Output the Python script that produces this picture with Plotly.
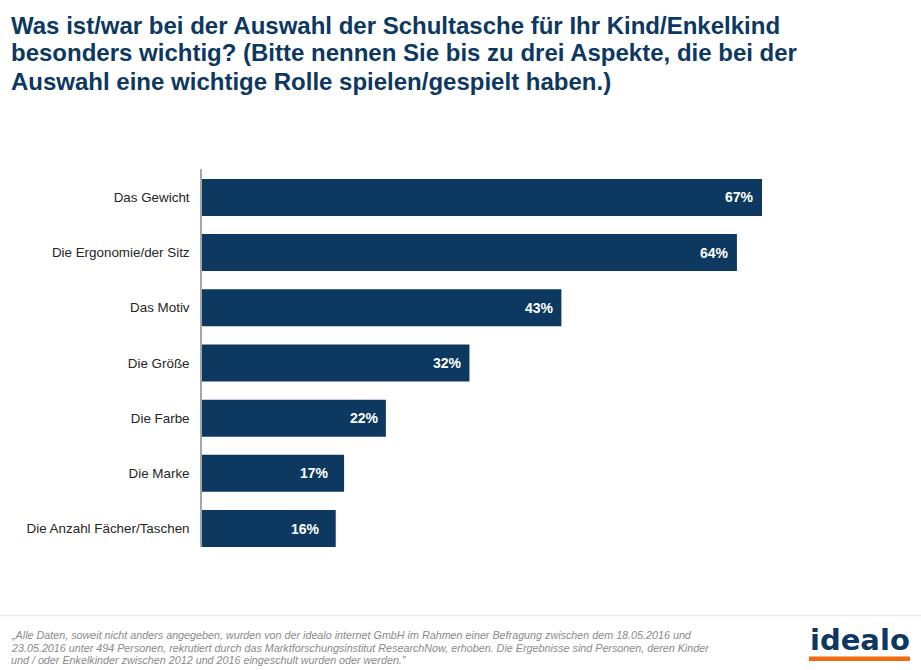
import plotly.graph_objects as go

categories = ["Das Gewicht", "Die Ergonomie/der Sitz", "Das Motiv", "Die Größe", "Die Farbe", "Die Marke", "Die Anzahl Fächer/Taschen"]
values = [67, 64, 43, 32, 22, 17, 16]
label_inset = [6, 6, 5, 5, 5, 13, 14]
title_lines = ["Was ist/war bei der Auswahl der Schultasche für Ihr Kind/Enkelkind",
               "besonders wichtig? (Bitte nennen Sie bis zu drei Aspekte, die bei der",
               "Auswahl eine wichtige Rolle spielen/gespielt haben.)"]
footer_lines = ["„Alle Daten, soweit nicht anders angegeben, wurden von der idealo internet GmbH im Rahmen einer Befragung zwischen dem 18.05.2016 und",
                "23.05.2016 unter 494 Personen, rekrutiert durch das Marktforschungsinstitut ResearchNow, erhoben. Die Ergebnisse sind Personen, deren Kinder",
                "und / oder Enkelkinder zwischen 2012 und 2016 eingeschult wurden oder werden.\""]
NAVY = "#0d3860"
W, H = 921, 670
L, R, T, B = 202, 20, 169, 123
FONT = "Liberation Sans"

def px(x):
    return (x - L) / (W - L - R)

def py(y):
    return 1 - (y - T) / (H - T - B)

fig = go.Figure(go.Bar(x=values, y=categories, orientation="h", width=0.67,
                       marker=dict(color=NAVY, line=dict(width=0)), hoverinfo="skip"))

annotations = []
for c, v, ins in zip(categories, values, label_inset):
    annotations.append(dict(x=v, y=c, xref="x", yref="y", text=f"<b>{v}%</b>", showarrow=False,
                            xanchor="right", xshift=-ins,
                            font=dict(family=FONT, size=14, color="white")))
for line, y in zip(title_lines, [25, 53, 81]):
    annotations.append(dict(x=px(11), y=py(y), xref="paper", yref="paper", text=f"<b>{line}</b>",
                            showarrow=False, xanchor="left", yanchor="middle", xshift=-2,
                            font=dict(family=FONT, size=24, color=NAVY)))
for line, y in zip(footer_lines, [635, 647.5, 660]):
    annotations.append(dict(x=px(11), y=py(y), xref="paper", yref="paper", text=f"<i>{line}</i>",
                            showarrow=False, xanchor="left", yanchor="middle", xshift=-2,
                            font=dict(family=FONT, size=10.75, color="#8a8a8a")))
annotations.append(dict(x=px(859.5), y=py(640), xref="paper", yref="paper", text="<b>idealo</b>", showarrow=False,
                        xanchor="center", yanchor="middle",
                        font=dict(family="DejaVu Sans", size=29, color=NAVY)))

fig.update_layout(
    width=W, height=H, autosize=False, paper_bgcolor="white", plot_bgcolor="white", showlegend=False,
    margin=dict(l=L, r=R, t=T, b=B), annotations=annotations,
    font=dict(family=FONT),
    xaxis=dict(range=[0, 83.63], visible=False, fixedrange=True),
    yaxis=dict(type="category", categoryorder="array", categoryarray=categories, range=[6.335, -0.515],
               showline=True, linecolor="#a6a6a6", linewidth=1.5, ticks="", showgrid=False, zeroline=False,
               ticklabelstandoff=8, tickfont=dict(family=FONT, size=13.4, color="#262626")),
    shapes=[
        dict(type="line", xref="paper", yref="paper", x0=px(0), x1=px(W), y0=py(615.5), y1=py(615.5),
             line=dict(color="#ececec", width=1.5)),
        dict(type="rect", xref="paper", yref="paper", x0=px(809), x1=px(910), y0=py(661), y1=py(656.5),
             fillcolor="#f26a10", line=dict(width=0)),
    ],
)
fig.write_html("out.html", config=dict(displayModeBar=False),
               post_script="document.body.style.margin='0';")
